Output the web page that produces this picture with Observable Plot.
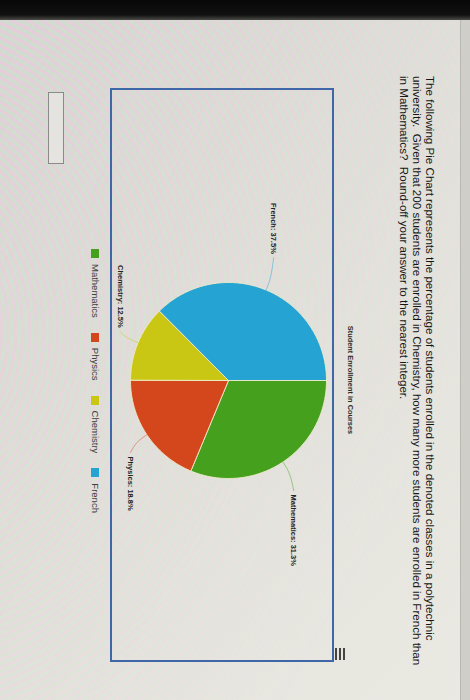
<!DOCTYPE html>
<html>
<head>
<meta charset="utf-8">
<script src="https://cdn.jsdelivr.net/npm/d3@7"></script>
<script src="https://cdn.jsdelivr.net/npm/@observablehq/plot@0.6"></script>
<style>
  html, body { margin: 0; padding: 0; }
  body {
    width: 470px; height: 700px; overflow: hidden; position: relative;
    background: linear-gradient(135deg, #d9d6d6 0%, #e3e2dc 45%, #ecebe5 100%);
    font-family: "Liberation Sans", Arial, sans-serif;
  }
  #moire { position: absolute; left: 0; top: 0; width: 470px; height: 700px;
    background: repeating-radial-gradient(circle at -140px 330px,
      rgba(236,196,220,0.5) 0px, rgba(236,196,220,0.5) 3.5px,
      rgba(196,226,196,0.5) 3.5px, rgba(196,226,196,0.5) 7px);
    -webkit-mask-image: linear-gradient(120deg, rgba(0,0,0,0.95) 0%, rgba(0,0,0,0.5) 45%, rgba(0,0,0,0.05) 80%);
    mask-image: linear-gradient(120deg, rgba(0,0,0,0.95) 0%, rgba(0,0,0,0.5) 45%, rgba(0,0,0,0.05) 80%); }
  #bezel { position: absolute; left: 0; top: 0; width: 470px; height: 20px;
    background: linear-gradient(#070707 0%, #111 75%, #4a4a47 100%); }
  #edge { position: absolute; left: 460px; top: 20px; width: 10px; height: 680px;
    background: #cfcec9; border-left: 1px solid #b9b8b2; }
  #page { position: absolute; left: 0; top: 0; width: 700px; height: 470px;
    transform-origin: 0 0; transform: translate(470px, 0) rotate(90deg); }
  #question { position: absolute; left: 76px; top: 33px; font-size: 11.6px; line-height: 13px;
    color: #161616; white-space: pre; }
  #answer { position: absolute; left: 92px; top: 406px; width: 70px; height: 14px;
    border: 1px solid #8a8a8a; background: rgba(240,240,236,0.5); }
  #frame { position: absolute; left: 88px; top: 136px; width: 570px; height: 220px;
    border: 2px solid #3f66a6; pointer-events: none; }
  #chart { position: absolute; left: 80px; top: 95px; }
  #title { position: absolute; left: 280px; top: 115px; width: 200px; text-align: center;
    font-size: 7.4px; font-weight: 600; color: #2a2a2a; }
  #menu { position: absolute; left: 648px; top: 125px; width: 12px; }
  #menu div { height: 2px; background: #444; margin-bottom: 2px; }
  #legend { position: absolute; left: 249px; top: 369px; display: flex; align-items: center;
    font-size: 9.5px; color: #3e3e3e; }
  #legend .item { display: flex; align-items: center; margin-right: 15px; }
  #legend .sw { width: 9px; height: 8px; margin-right: 6px; }
</style>
</head>
<body>
<div id="moire"></div>
<div id="bezel"></div>
<div id="edge"></div>
<div id="page">
  <div id="question"></div>
  <div id="answer"></div>
  <div id="title"></div>
  <div id="menu"><div></div><div></div><div></div></div>
  <div id="chart"></div>
  <div id="frame"></div>
  <div id="legend"></div>
</div>
<script>
// ---- data ----
const categories = ["Mathematics", "Physics", "Chemistry", "French"];
const shares = [31.3, 18.8, 12.5, 37.5];
const sliceLabels = ["Mathematics: 31.3%", "Physics: 18.8%", "Chemistry: 12.5%", "French: 37.5%"];
const colors = ["#44a01d", "#d4461b", "#c9c714", "#25a3d3"];
const chartTitle = "Student Enrollment in Courses";
const questionLines = [
  "The following Pie Chart represents the percentage of students enrolled in the denoted classes in a polytechnic",
  "university.  Given that 200 students are enrolled in Chemistry, how many more students are enrolled in French than",
  "in Mathematics?  Round-off your answer to the nearest integer."
];

document.getElementById("question").textContent = questionLines.join("\n");
document.getElementById("title").textContent = chartTitle;

// ---- geometry derived from the data ----
const rows = categories.map((name, i) => ({name, value: shares[i], label: sliceLabels[i]}));
const arcs = d3.pie().sort(null).value(d => d.value)(rows);

const slicePts = arcs.flatMap(a => {
  const name = a.data.name;
  const n = Math.max(4, Math.ceil((a.endAngle - a.startAngle) / 0.015));
  const pts = [{name, x: 0, y: 0}];
  for (let k = 0; k <= n; k++) {
    const t = a.startAngle + (a.endAngle - a.startAngle) * k / n;
    pts.push({name, x: Math.sin(t), y: Math.cos(t)});
  }
  pts.push({name, x: 0, y: 0});
  return pts;
});

// label placement: pushed out horizontally more than vertically (chart-library style)
const labelPts = arcs.map(a => {
  const m = (a.startAngle + a.endAngle) / 2;
  return {name: a.data.name, label: a.data.label, side: Math.sin(m) >= 0 ? 1 : -1,
          x: 1.4 * Math.sin(m), y: 1.2 * Math.cos(m), m};
});

const leaderPts = labelPts.flatMap(l => [
  {name: l.name, x: Math.sin(l.m), y: Math.cos(l.m)},
  {name: l.name, x: 1.13 * Math.sin(l.m), y: 1.13 * Math.cos(l.m)},
  {name: l.name, x: l.x - l.side * 0.04, y: l.y}
]);

const W = 600, H = 300, R = 98, cx = 300, cy = 146;
const plot = Plot.plot({
  width: W, height: H, margin: 0,
  x: {domain: [-cx / R, (W - cx) / R], axis: null},
  y: {domain: [-(H - cy) / R, cy / R], axis: null},
  color: {domain: categories, range: colors},
  style: {background: "transparent", overflow: "visible", fontFamily: "Liberation Sans, Arial, sans-serif"},
  marks: [
    Plot.line(slicePts, {x: "x", y: "y", z: "name", fill: "name", stroke: "#f1ecc9", strokeWidth: 0.9, strokeLinejoin: "round"}),
    Plot.line(leaderPts, {x: "x", y: "y", z: "name", stroke: "name", strokeOpacity: 0.6, strokeWidth: 0.8, curve: "basis"}),
    Plot.text(labelPts.filter(d => d.side > 0), {x: "x", y: "y", text: "label", textAnchor: "start", fontSize: 7.5, fontWeight: "bold", fill: "#222"}),
    Plot.text(labelPts.filter(d => d.side < 0), {x: "x", y: "y", text: "label", textAnchor: "end", fontSize: 7.5, fontWeight: "bold", fill: "#222"})
  ]
});
document.getElementById("chart").appendChild(plot);

const colorScale = plot.scale("color");
const legend = document.getElementById("legend");
categories.forEach(c => {
  const item = document.createElement("div");
  item.className = "item";
  const sw = document.createElement("div");
  sw.className = "sw";
  sw.style.background = colorScale.apply(c);
  const tx = document.createElement("span");
  tx.textContent = c;
  item.appendChild(sw); item.appendChild(tx);
  legend.appendChild(item);
});
</script>
</body>
</html>
